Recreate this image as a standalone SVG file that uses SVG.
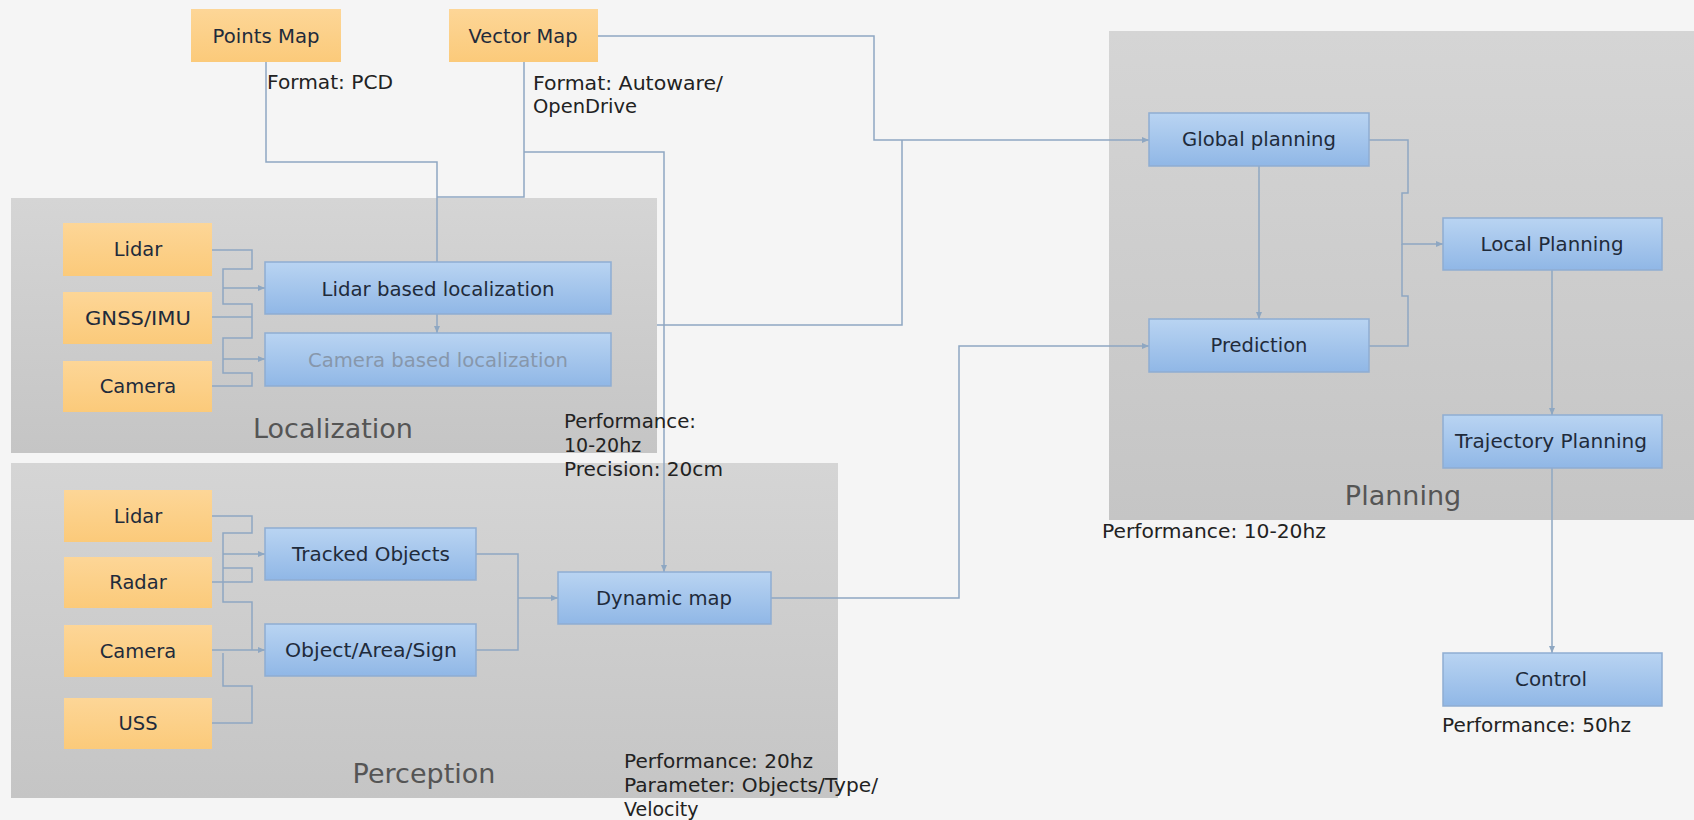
<svg xmlns="http://www.w3.org/2000/svg" width="1694" height="820" viewBox="0 0 1694 820">
<defs>
<linearGradient id="gGray" x1="0" y1="0" x2="0" y2="1"><stop offset="0" stop-color="#d5d5d5"/><stop offset="1" stop-color="#c5c5c5"/></linearGradient>
<linearGradient id="gBlue" x1="0" y1="0" x2="0" y2="1"><stop offset="0" stop-color="#b9d4f2"/><stop offset="1" stop-color="#90b7e6"/></linearGradient>
<linearGradient id="gOrange" x1="0" y1="0" x2="0" y2="1"><stop offset="0" stop-color="#fdd697"/><stop offset="1" stop-color="#fbca7a"/></linearGradient>
<marker id="arr" markerWidth="8" markerHeight="8" refX="7" refY="4" orient="auto" markerUnits="userSpaceOnUse"><path d="M0,1 L7,4 L0,7 z" fill="#8ea7c2"/></marker>
<style>
.grp{fill:url(#gGray)}
.blue{fill:url(#gBlue);stroke:#8fadd2;stroke-width:1.5}
.orange{fill:url(#gOrange)}
.t{font-family:"DejaVu Sans","Liberation Sans",sans-serif;font-size:19.5px;fill:#1f2b3b;text-anchor:middle}
.dim{fill:#8797ab}
.note{font-family:"DejaVu Sans","Liberation Sans",sans-serif;font-size:19px;fill:#222}
.glabel{font-family:"DejaVu Sans","Liberation Sans",sans-serif;font-size:27px;fill:#555;text-anchor:middle}
.c{fill:none;stroke:#8ea7c2;stroke-width:1.5}
.a{marker-end:url(#arr)}
</style>
</defs>
<rect width="1694" height="820" fill="#f5f5f5"/>

<g id="group-localization"><rect class="grp" x="11" y="198" width="646" height="255"/><text class="glabel" x="333" y="438">Localization</text></g>
<g id="group-perception"><rect class="grp" x="11" y="463" width="827" height="335"/><text class="glabel" x="424" y="783">Perception</text></g>
<g id="group-planning"><rect class="grp" x="1109" y="31" width="585" height="489"/><text class="glabel" x="1403" y="505">Planning</text></g>

<g id="connectors">
<path class="c a" d="M266,62 V162 H437 V333"/>
<path class="c" d="M524,62 V197 H437"/>
<path class="c a" d="M524,152 H664 V572"/>
<path class="c a" d="M598,36 H874 V140 H1149"/>
<path class="c" d="M657,325 H902 V140"/>
<path class="c a" d="M771,598 H959 V346 H1149"/>
<path class="c a" d="M1259,166 V319"/>
<path class="c a" d="M1369,140 H1408 V193 H1402 V244 H1443"/>
<path class="c" d="M1369,346 H1408 V296 H1402 V244"/>
<path class="c a" d="M1552,270 V415"/>
<path class="c a" d="M1552,468 V653"/>
<path class="c" d="M212,250 H252 V269 H223 V304 H252 V338 H223 V373 H252 V386 H212"/>
<path class="c" d="M212,317 H252"/>
<path class="c a" d="M223,288 H265"/>
<path class="c a" d="M223,359 H265"/>
<path class="c" d="M212,516 H252 V533 H223 V602 H252 V650"/>
<path class="c" d="M223,568 H252 V582 H212"/>
<path class="c a" d="M223,554 H265"/>
<path class="c a" d="M212,650 H265"/>
<path class="c" d="M223,653 V686 H252 V723 H212"/>
<path class="c" d="M476,554 H518 V650 H476"/>
<path class="c a" d="M518,598 H558"/>
</g>

<g id="points-map"><rect class="orange" x="191" y="9" width="150" height="53"/><text class="t" x="266" y="43" textLength="107" lengthAdjust="spacingAndGlyphs">Points Map</text></g>
<g id="vector-map"><rect class="orange" x="449" y="9" width="149" height="53"/><text class="t" x="523" y="43" textLength="109" lengthAdjust="spacingAndGlyphs">Vector Map</text></g>

<g id="loc-lidar"><rect class="orange" x="63" y="223" width="149" height="53"/><text class="t" x="138" y="256">Lidar</text></g>
<g id="loc-gnss"><rect class="orange" x="63" y="292" width="149" height="52"/><text class="t" x="138" y="325" textLength="106" lengthAdjust="spacingAndGlyphs">GNSS/IMU</text></g>
<g id="loc-camera"><rect class="orange" x="63" y="361" width="149" height="51"/><text class="t" x="138" y="393">Camera</text></g>
<g id="lidar-loc"><rect class="blue" x="265" y="262" width="346" height="52"/><text class="t" x="438" y="296" textLength="233" lengthAdjust="spacingAndGlyphs">Lidar based localization</text></g>
<g id="camera-loc"><rect class="blue" x="265" y="333" width="346" height="53"/><text class="t dim" x="438" y="367" textLength="260" lengthAdjust="spacingAndGlyphs">Camera based localization</text></g>

<g id="per-lidar"><rect class="orange" x="64" y="490" width="148" height="52"/><text class="t" x="138" y="523">Lidar</text></g>
<g id="per-radar"><rect class="orange" x="64" y="557" width="148" height="51"/><text class="t" x="138" y="589">Radar</text></g>
<g id="per-camera"><rect class="orange" x="64" y="625" width="148" height="52"/><text class="t" x="138" y="658">Camera</text></g>
<g id="per-uss"><rect class="orange" x="64" y="698" width="148" height="51"/><text class="t" x="138" y="730">USS</text></g>
<g id="tracked-objects"><rect class="blue" x="265" y="528" width="211" height="52"/><text class="t" x="371" y="561" textLength="158" lengthAdjust="spacingAndGlyphs">Tracked Objects</text></g>
<g id="object-area-sign"><rect class="blue" x="265" y="624" width="211" height="52"/><text class="t" x="371" y="657" textLength="172" lengthAdjust="spacingAndGlyphs">Object/Area/Sign</text></g>
<g id="dynamic-map"><rect class="blue" x="558" y="572" width="213" height="52"/><text class="t" x="664" y="605" textLength="136" lengthAdjust="spacingAndGlyphs">Dynamic map</text></g>

<g id="global-planning"><rect class="blue" x="1149" y="113" width="220" height="53"/><text class="t" x="1259" y="146" textLength="154" lengthAdjust="spacingAndGlyphs">Global planning</text></g>
<g id="prediction"><rect class="blue" x="1149" y="319" width="220" height="53"/><text class="t" x="1259" y="352" textLength="97" lengthAdjust="spacingAndGlyphs">Prediction</text></g>
<g id="local-planning"><rect class="blue" x="1443" y="218" width="219" height="52"/><text class="t" x="1552" y="251" textLength="143" lengthAdjust="spacingAndGlyphs">Local Planning</text></g>
<g id="trajectory-planning"><rect class="blue" x="1443" y="415" width="219" height="53"/><text class="t" x="1551" y="448" textLength="192" lengthAdjust="spacingAndGlyphs">Trajectory Planning</text></g>
<g id="control"><rect class="blue" x="1443" y="653" width="219" height="53"/><text class="t" x="1551" y="686" textLength="72" lengthAdjust="spacingAndGlyphs">Control</text></g>

<g id="notes">
<text class="note" x="267" y="89" textLength="126" lengthAdjust="spacingAndGlyphs">Format: PCD</text>
<text class="note" x="533" y="90" textLength="190" lengthAdjust="spacingAndGlyphs">Format: Autoware/</text>
<text class="note" x="533" y="113" textLength="104" lengthAdjust="spacingAndGlyphs">OpenDrive</text>
<text class="note" x="564" y="428" textLength="132" lengthAdjust="spacingAndGlyphs">Performance:</text>
<text class="note" x="564" y="452">10-20hz</text>
<text class="note" x="564" y="476" textLength="159" lengthAdjust="spacingAndGlyphs">Precision: 20cm</text>
<text class="note" x="624" y="768" textLength="189" lengthAdjust="spacingAndGlyphs">Performance: 20hz</text>
<text class="note" x="624" y="792" textLength="254" lengthAdjust="spacingAndGlyphs">Parameter: Objects/Type/</text>
<text class="note" x="624" y="816">Velocity</text>
<text class="note" x="1102" y="538" textLength="224" lengthAdjust="spacingAndGlyphs">Performance: 10-20hz</text>
<text class="note" x="1442" y="732" textLength="189" lengthAdjust="spacingAndGlyphs">Performance: 50hz</text>
</g>
</svg>
